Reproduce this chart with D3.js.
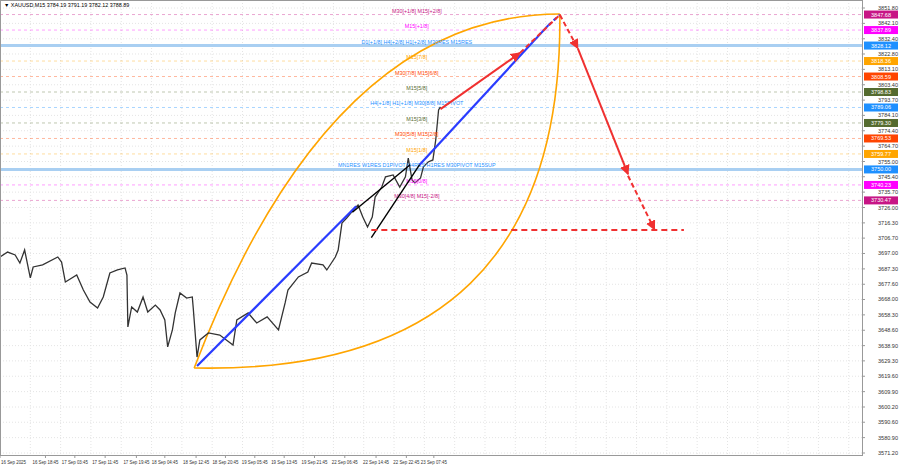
<!DOCTYPE html>
<html><head><meta charset="utf-8">
<script src="https://cdn.jsdelivr.net/npm/d3@7"></script>
<style>body{margin:0;background:#fff}svg{display:block;font-family:"Liberation Sans",sans-serif}</style>
</head><body><svg id="c" width="900" height="468"></svg>
<script>
const pricePath=[[0,3694.8],[8,3697.9],[16,3696.1],[21,3691.0],[26,3699.2],[32,3681.6],[35,3688.5],[45,3689.8],[61,3694.8],[65,3691.6],[69,3679.0],[81,3683.4],[88,3674.0],[95,3666.4],[103,3662.6],[109,3669.6],[116,3684.7],[124,3686.6],[132,3687.9],[134,3683.4],[135,3650.7],[139,3663.3],[145,3660.1],[151,3669.6],[156,3660.1],[164,3664.5],[169,3661.4],[174,3655.1],[177,3638.1],[182,3648.8],[185,3659.5],[190,3672.1],[197,3668.9],[203,3669.6],[204,3662.6],[208,3631.7],[211,3642.5],[220,3646.9],[232,3645.6],[246,3639.3],[250,3655.1],[262,3659.5],[271,3653.2],[282,3657.0],[294,3648.8],[301,3665.8],[304,3674.0],[315,3682.2],[325,3685.3],[329,3691.0],[341,3689.8],[345,3686.6],[354,3694.8],[357,3699.2],[361,3716.2],[366,3719.4],[373,3724.4],[378,3727.6],[383,3720.0],[388,3713.7],[393,3720.0],[396,3732.6],[403,3738.9],[407,3745.3],[415,3746.5],[422,3738.9],[428,3745.3],[431,3757.2],[435,3743.4],[438,3741.5],[444,3744.6],[447,3751.6],[452,3754.7],[457,3756.0],[460,3768.6],[463,3787.5],[465,3789.4]];
const yTicks=[3851.80,3842.10,3832.40,3822.80,3813.10,3803.40,3793.70,3784.10,3774.40,3764.70,3755.00,3745.40,3735.70,3726.00,3716.30,3706.70,3697.00,3687.30,3677.60,3668.00,3658.30,3648.60,3638.90,3629.30,3619.60,3609.90,3600.20,3590.60,3580.90,3571.20];
const timeLabels=["16 Sep 2025","16 Sep 18:45","17 Sep 03:45","17 Sep 11:45","17 Sep 19:45","18 Sep 04:45","18 Sep 12:45","18 Sep 20:45","19 Sep 05:45","19 Sep 13:45","19 Sep 21:45","22 Sep 06:45","22 Sep 14:45","22 Sep 22:45","23 Sep 07:45"];
const timeBars=[0,48,79,111,144,174,207,238,269,300,332,364,397,429,458];
const levelValues=[3847.68,3837.89,3828.12,3818.36,3808.59,3798.83,3789.06,3779.30,3769.53,3759.77,3750.00,3740.23,3730.47];
const levelNames=["M30[+1/8] M15[+2/8]","M15[+1/8]","D1[+1/8] H4[+2/8] H1[+2/8] M30RES M15RES","M15[7/8]","M30[7/8] M15[6/8]","M15[5/8]","H4[+1/8] H1[+1/8] M30[8/8] M15PIVOT","M15[3/8]","M30[5/8] M15[2/8]","M15[1/8]","MN1RES W1RES D1PIVOT H4RES H1RES M30PIVOT M15SUP","M15[0/8]","M30[4/8] M15[-2/8]"];
const levelColors=["#c71585","#ff00ff","#1e90ff","#ffa500","#ff4500","#556b2f","#1e90ff","#556b2f","#ff4500","#ffa500","#1e90ff","#ff00ff","#c71585"];
const levelThick=[0,0,1,0,0,0,0,0,0,0,1,0,0];
const upperArc=[[205,3624.8],[348,3848.0],[591,3848.0]];
const lowerArc=[[205,3624.8],[595,3620.0],[591,3848.0]];
const blue1=[[208,3626.0],[376,3726.8]];
const blue2=[[443,3753.0],[579,3841.0]];
const blueDash=[[579,3841.0],[591,3847.5]];
const blackUp=[[372,3723.0],[433,3753.0]];
const blackLow=[[392,3707.0],[443,3753.0]];
const redSolid=[[[465,3788.0],[549,3823.5]],[[610,3826.3],[663,3747.0]]];
const redDash=[[[549,3823.5],[591,3847.5]],[[591,3847.5],[610,3826.3]],[[663,3746.0],[691,3712.0]]];
const targetLevel=3711.8, targetFrom=392, targetTo=722;

const svg=d3.select("#c");
const L=0,R=862,T=0,B=455;
const x=d3.scaleLinear().domain([0,910]).range([L,R]);
const y=d3.scaleLinear().domain([3571.2,3851.8]).range([453,8]);
const defs=svg.append("defs");
defs.append("marker").attr("id","ar").attr("viewBox","0 0 10 10").attr("refX",9).attr("refY",5).attr("markerWidth",5).attr("markerHeight",5).attr("orient","auto")
 .append("path").attr("d","M0,0L10,5L0,10z").attr("fill","#f03030");
svg.append("g").selectAll("line").data(yTicks).join("line").attr("x1",L).attr("x2",R).attr("y1",d=>y(d)).attr("y2",d=>y(d)).attr("stroke","#e4e4e4").attr("stroke-dasharray","1,2");
svg.append("g").selectAll("line").data(d3.range(0,910,32)).join("line").attr("x1",d=>x(d)).attr("x2",d=>x(d)).attr("y1",T).attr("y2",B).attr("stroke","#e4e4e4").attr("stroke-dasharray","1,2");
levelValues.forEach((v,i)=>{
 svg.append("line").attr("x1",L).attr("x2",R).attr("y1",y(v)).attr("y2",y(v))
  .attr("stroke",levelThick[i]?"#a9cff2":levelColors[i]).attr("stroke-width",levelThick[i]?3:0.7)
  .attr("stroke-opacity",levelThick[i]?1:0.55).attr("stroke-dasharray",levelThick[i]?null:"3,3");
});
const ln=d3.line().x(d=>x(d[0])).y(d=>y(d[1]));
const arc=p=>{const a=[x(p[0][0]),y(p[0][1])],c=[x(p[1][0]),y(p[1][1])],e=[x(p[2][0]),y(p[2][1])];return `M${a}Q${c} ${e}`;};
svg.append("path").attr("d",arc(upperArc)).attr("fill","none").attr("stroke","#ffa500").attr("stroke-width",1.6);
svg.append("path").attr("d",arc(lowerArc)).attr("fill","none").attr("stroke","#ffa500").attr("stroke-width",1.6);
svg.append("path").datum(pricePath).attr("d",ln).attr("fill","none").attr("stroke","#333").attr("stroke-width",1.3);
levelValues.forEach((v,i)=>{
 svg.append("text").attr("x",x(440)).attr("y",y(v)-2).attr("text-anchor","middle").attr("font-size",5.4).attr("fill",levelColors[i]).text(levelNames[i]);
});
[blue1,blue2].forEach(s=>svg.append("path").datum(s).attr("d",ln).attr("stroke","#2a3cff").attr("stroke-width",2.2).attr("fill","none"));
svg.append("path").datum(blueDash).attr("d",ln).attr("stroke","#2a3cff").attr("stroke-width",2.2).attr("stroke-dasharray","4,3").attr("fill","none");
[blackUp,blackLow].forEach(s=>svg.append("path").datum(s).attr("d",ln).attr("stroke","#000").attr("stroke-width",1.4).attr("fill","none"));
redSolid.forEach(s=>svg.append("path").datum(s).attr("d",ln).attr("stroke","#f03030").attr("stroke-width",2).attr("fill","none").attr("marker-end","url(#ar)"));
redDash.forEach((s,i)=>svg.append("path").datum(s).attr("d",ln).attr("stroke","#f03030").attr("stroke-width",2).attr("stroke-dasharray","5,3").attr("fill","none").attr("marker-end",i>0?"url(#ar)":null));
svg.append("line").attr("x1",x(targetFrom)).attr("x2",x(targetTo)).attr("y1",y(targetLevel)).attr("y2",y(targetLevel)).attr("stroke","#f03030").attr("stroke-width",1.8).attr("stroke-dasharray","6,4");
svg.append("rect").attr("x",L+0.5).attr("y",0.5).attr("width",R-L).attr("height",B).attr("fill","none").attr("stroke","#999");
const ax=svg.append("g");
yTicks.forEach(v=>{ax.append("line").attr("x1",R).attr("x2",R+3).attr("y1",y(v)).attr("y2",y(v)).attr("stroke","#999");
 ax.append("text").attr("x",R+16).attr("y",y(v)+2).attr("font-size",5).attr("textLength",20).attr("lengthAdjust","spacingAndGlyphs").attr("fill","#333").text(v.toFixed(2));});
levelValues.forEach((v,i)=>{
 ax.append("rect").attr("x",R+2).attr("y",y(v)-4).attr("width",34).attr("height",8).attr("fill",levelColors[i]);
 ax.append("text").attr("x",R+9).attr("y",y(v)+2).attr("font-size",5).attr("textLength",20).attr("lengthAdjust","spacingAndGlyphs").attr("fill","#fff").text(v.toFixed(2));
});
timeLabels.forEach((t,i)=>{
 const tx=x(timeBars[i]);
 svg.append("line").attr("x1",tx).attr("x2",tx).attr("y1",B).attr("y2",B+3).attr("stroke","#999");
 svg.append("text").attr("x",i===0?1:tx-13).attr("y",B+9).attr("font-size",5).attr("textLength",i===0?25:26).attr("lengthAdjust","spacingAndGlyphs").attr("fill","#333").text(t);
});
svg.append("text").attr("x",4).attr("y",7).attr("font-size",5.4).attr("fill","#000").text("▼ XAUUSD,M15  3784.19 3791.19 3782.12 3788.89");
</script></body></html>
